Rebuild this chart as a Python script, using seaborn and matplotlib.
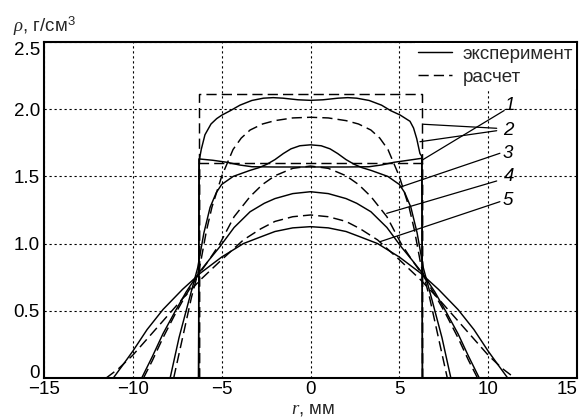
import matplotlib
matplotlib.use("Agg")
import matplotlib.pyplot as plt
import seaborn as sns

# ---------------- data ----------------
# profile 1
x1_exp = [-6.3, -6.28, -5.5, -4.7, -4.0, -3.3, -2.0, 0.0, 2.0, 3.3, 4.0, 4.7, 5.5, 6.28, 6.3]
r1_exp = [0.0, 1.63, 1.62, 1.605, 1.585, 1.572, 1.57, 1.57, 1.57, 1.572, 1.585, 1.605, 1.62, 1.635, 0.0]
x1_calc = [-6.3, -6.3, 6.3, 6.3]
r1_calc = [0.0, 1.603, 1.603, 0.0]

# profile 2
x2_exp = [-6.3, -6.26, -6.15, -5.94, -5.6, -5.28, -5.0, -4.5, -3.97, -3.3, -2.65, -2.1, -1.55, -0.7, 0.0,
          0.7, 1.55, 2.1, 2.6, 3.3, 4.0, 4.5, 5.04, 5.6, 5.8, 5.98, 6.16, 6.26, 6.3]
r2_exp = [0.0, 1.62, 1.70, 1.81, 1.89, 1.93, 1.955, 1.99, 2.03, 2.065, 2.082, 2.086, 2.082, 2.07, 2.066,
          2.07, 2.082, 2.086, 2.082, 2.065, 2.03, 1.99, 1.957, 1.91, 1.86, 1.78, 1.67, 1.65, 0.0]
x2_calc = [-6.3, -6.3, 6.3, 6.3]
r2_calc = [0.0, 2.115, 2.115, 0.0]

# profile 3
x3_exp = [-7.9, -7.4, -6.9, -6.35, -6.0, -5.65, -5.3, -5.0, -4.35, -3.4, -2.9, -2.46, -2.0, -1.53, -1.1, -0.6, 0.0,
          0.6, 1.1, 1.53, 2.0, 2.46, 2.9, 3.4, 4.35, 5.0, 5.3, 5.65, 6.0, 6.35, 6.9, 7.4, 7.9]
r3_exp = [0.0, 0.30, 0.55, 0.82, 1.08, 1.27, 1.38, 1.44, 1.50, 1.545, 1.565, 1.59, 1.625, 1.67, 1.705, 1.728, 1.735,
          1.728, 1.705, 1.67, 1.625, 1.59, 1.565, 1.545, 1.50, 1.44, 1.38, 1.27, 1.08, 0.82, 0.55, 0.30, 0.0]
x3_calc = [-7.7, -7.2, -6.7, -6.2, -5.85, -5.55, -5.0, -4.36, -3.9, -3.4, -2.7, -2.0, -1.0, 0.0,
           1.0, 2.0, 2.7, 3.4, 3.9, 4.36, 5.0, 5.55, 5.85, 6.2, 6.7, 7.2, 7.7]
r3_calc = [0.0, 0.30, 0.60, 0.85, 1.10, 1.27, 1.50, 1.70, 1.785, 1.845, 1.89, 1.915, 1.935, 1.94,
           1.935, 1.915, 1.89, 1.845, 1.785, 1.70, 1.50, 1.27, 1.10, 0.85, 0.60, 0.30, 0.0]

# profile 4
x4_exp = [-9.5, -8.9, -8.3, -7.6, -7.0, -6.3, -5.7, -5.1, -4.3, -3.4, -2.6, -2.0, -1.0, 0.0,
          1.0, 2.0, 2.6, 3.4, 4.3, 5.1, 5.7, 6.3, 7.0, 7.6, 8.3, 8.9, 9.5]
r4_exp = [0.0, 0.16, 0.33, 0.50, 0.64, 0.78, 0.88, 0.977, 1.12, 1.237, 1.30, 1.335, 1.372, 1.386,
          1.372, 1.335, 1.30, 1.237, 1.12, 0.977, 0.88, 0.78, 0.64, 0.50, 0.33, 0.16, 0.0]
x4_calc = [-9.4, -8.9, -8.3, -7.6, -7.0, -6.35, -5.7, -5.1, -4.3, -3.4, -2.7, -2.0, -1.0, 0.0,
           1.0, 2.0, 2.7, 3.4, 4.3, 5.1, 5.7, 6.35, 7.0, 7.6, 8.3, 8.9, 9.4]
r4_calc = [0.0, 0.13, 0.30, 0.48, 0.62, 0.76, 0.88, 1.0, 1.2, 1.35, 1.44, 1.505, 1.56, 1.577,
           1.56, 1.505, 1.44, 1.35, 1.2, 1.0, 0.88, 0.76, 0.62, 0.48, 0.30, 0.13, 0.0]

# profile 5
x5_exp = [-11.1, -10.6, -10.0, -9.2, -8.3, -7.2, -6.2, -5.0, -3.78, -2.8, -2.0, -1.0, 0.0,
          1.0, 2.0, 2.8, 3.78, 5.0, 6.2, 7.2, 8.3, 9.2, 10.0, 10.6, 11.1]
r5_exp = [0.0, 0.09, 0.20, 0.36, 0.51, 0.66, 0.78, 0.90, 1.0, 1.05, 1.09, 1.117, 1.126,
          1.117, 1.09, 1.05, 1.0, 0.90, 0.78, 0.66, 0.51, 0.36, 0.20, 0.09, 0.0]
x5_calc = [-11.5, -10.8, -10.0, -9.2, -8.2, -7.2, -6.2, -5.0, -3.78, -2.8, -2.0, -1.0, 0.0,
           1.0, 2.0, 2.8, 3.78, 5.0, 6.2, 7.2, 8.2, 9.2, 10.0, 10.8, 11.5]
r5_calc = [0.0, 0.07, 0.17, 0.29, 0.44, 0.59, 0.73, 0.88, 1.027, 1.11, 1.165, 1.2, 1.213,
           1.2, 1.165, 1.11, 1.027, 0.88, 0.73, 0.59, 0.44, 0.29, 0.17, 0.07, 0.0]

x_ticks = [-15, -10, -5, 0, 5, 10, 15]
x_tick_labels = ["\u221215", "\u221210", "\u22125", "0", "5", "10", "15"]
y_ticks = [0, 0.5, 1.0, 1.5, 2.0, 2.5]
y_tick_labels = ["0", "0.5", "1.0", "1.5", "2.0", "2.5"]

legend_labels = ["эксперимент", "расчет"]

curve_names = ["1", "2", "3", "4", "5"]
name_pos_x = [11.23, 11.11, 11.11, 11.17, 11.11]
name_pos_y = [2.03, 1.845, 1.67, 1.50, 1.324]
# leader lines: (start x, start y, end x, end y)
leader_sx = [10.9, 10.48, 10.48, 10.66, 10.48, 10.66]
leader_sy = [1.99, 1.858, 1.84, 1.672, 1.466, 1.312]
leader_ex = [6.27, 6.35, 6.16, 5.04, 4.29, 3.91]
leader_ey = [1.62, 1.888, 1.758, 1.42, 1.225, 1.014]

# ---------------- figure ----------------
sns.set_theme(style="white")
plt.rcParams["font.family"] = ["Liberation Sans", "DejaVu Sans"]
plt.rcParams["mathtext.fontset"] = "custom"
plt.rcParams["mathtext.it"] = "Liberation Serif:italic"
plt.rcParams["mathtext.rm"] = "Liberation Sans"
plt.rcParams["axes.unicode_minus"] = True

FS = 13.5
fig, ax = plt.subplots(figsize=(5.83, 4.2), dpi=100)
fig.subplots_adjust(left=44 / 583, right=577 / 583, top=1 - 42 / 420, bottom=1 - 378 / 420)

DASH = (0, (7, 3.5))
curves = [
    (x1_exp, r1_exp, x1_calc, r1_calc),
    (x2_exp, r2_exp, x2_calc, r2_calc),
    (x3_exp, r3_exp, x3_calc, r3_calc),
    (x4_exp, r4_exp, x4_calc, r4_calc),
    (x5_exp, r5_exp, x5_calc, r5_calc),
]
for i, (xe, re, xc, rc) in enumerate(curves):
    kw_e = dict(label=legend_labels[0]) if i == 0 else {}
    kw_c = dict(label=legend_labels[1]) if i == 0 else {}
    sns.lineplot(x=xe, y=re, ax=ax, sort=False, estimator=None, color="black",
                 linewidth=1.05, **kw_e)
    sns.lineplot(x=xc, y=rc, ax=ax, sort=False, estimator=None, color="black",
                 linewidth=1.05, linestyle=DASH, **kw_c)

ax.set_xlim(-15, 15)
ax.set_ylim(0, 2.5)
ax.set_xticks(x_ticks)
ax.set_xticklabels(x_tick_labels)
ax.set_yticks(y_ticks)
ax.set_yticklabels(y_tick_labels)
ax.tick_params(axis="both", length=0, labelsize=FS, colors="black")
ax.tick_params(axis="x", pad=2.5)
ax.tick_params(axis="y", pad=3)
yl = ax.get_yticklabels()
yl[0].set_va("baseline")
yl[-1].set_va("top")
xl = ax.get_xticklabels()
xl[-1].set_ha("right")

ax.grid(True, color="black", linestyle=(0, (2, 2.5)), linewidth=0.8)
ax.set_axisbelow(True)
for s in ax.spines.values():
    s.set_color("black")
    s.set_linewidth(1.5)
ax.set_xlabel("")
ax.set_ylabel("")

# leader lines and curve numbers
for sx, sy, ex, ey in zip(leader_sx, leader_sy, leader_ex, leader_ey):
    ax.annotate("", xy=(ex, ey), xytext=(sx, sy),
                arrowprops=dict(arrowstyle="-", color="black", lw=0.9, shrinkA=0, shrinkB=0))
for name, px, py in zip(curve_names, name_pos_x, name_pos_y):
    ax.text(px, py, name, fontsize=FS, style="italic", ha="center", va="center", color="black")

handles, labels = ax.get_legend_handles_labels()
leg = ax.legend(handles, labels, loc="upper right", bbox_to_anchor=(1.0, 1.0),
                borderaxespad=0.05, borderpad=0.15, frameon=True, fancybox=False,
                handlelength=1.85, handletextpad=0.55, labelspacing=0.32, fontsize=FS)
leg.get_frame().set_facecolor("white")
leg.get_frame().set_edgecolor("none")
leg.get_frame().set_alpha(1.0)

# axis titles
fig.text(13 / 583, 1 - 32 / 420, r"$\rho$, г/см$^3$", fontsize=FS, ha="left", va="baseline")
fig.text(313 / 583, 1 - 414 / 420, r"$r$, мм", fontsize=FS, ha="center", va="baseline")

fig.savefig("out.png", dpi=100)
